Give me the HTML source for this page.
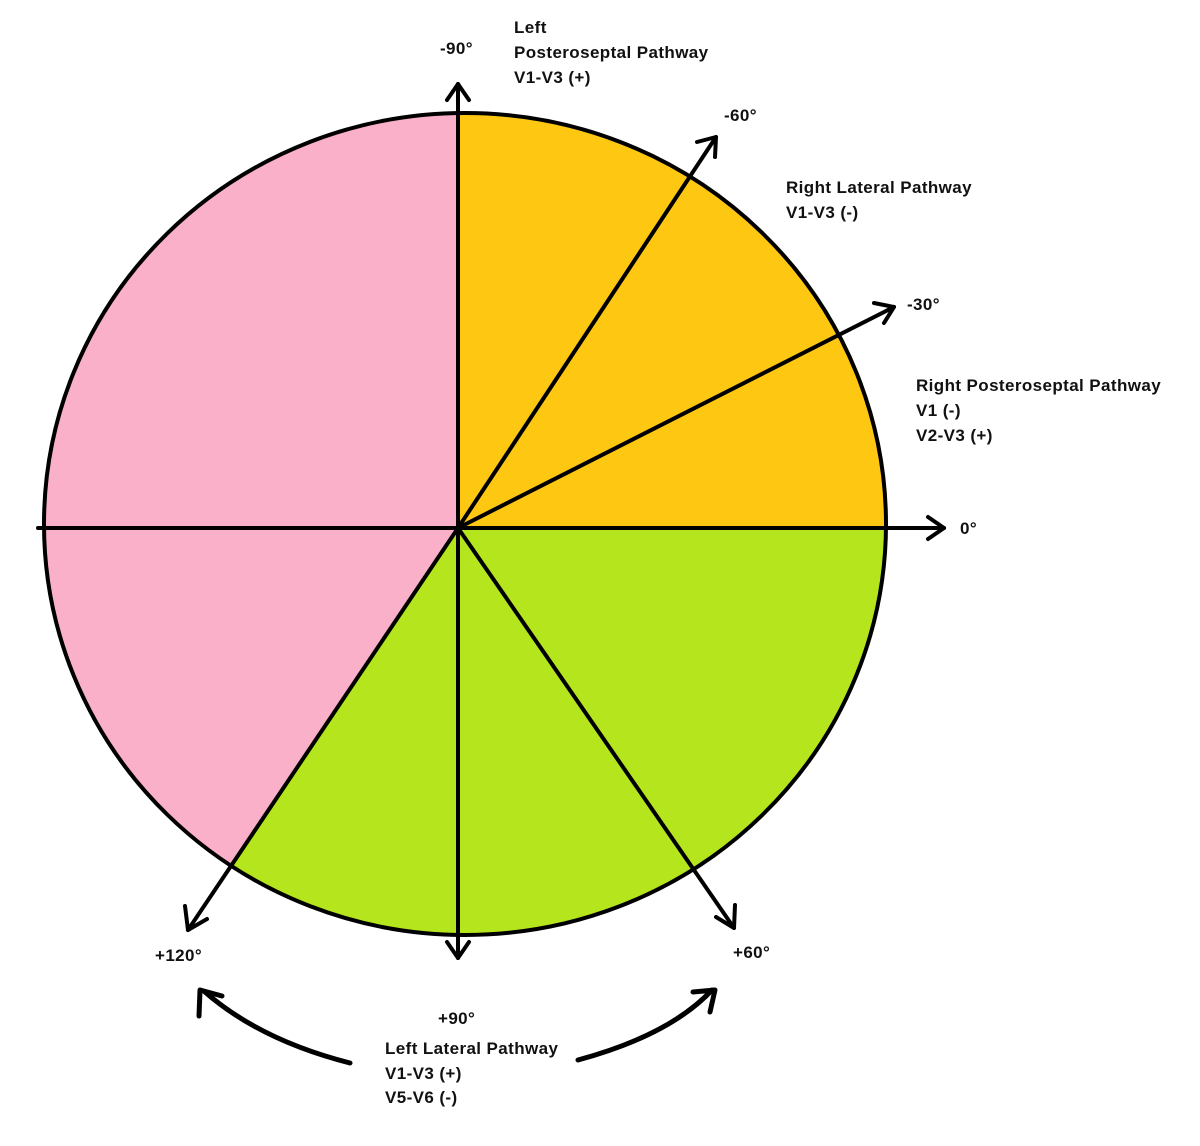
<!DOCTYPE html>
<html><head><style>
body{margin:0;background:#fff;}
svg text{font-family:"Liberation Sans",sans-serif;font-size:17px;letter-spacing:0.4px;fill:#111;font-weight:bold;}
</style></head><body>
<svg width="1200" height="1141" viewBox="0 0 1200 1141" xmlns="http://www.w3.org/2000/svg">
<defs><clipPath id="c"><ellipse cx="465" cy="524" rx="421" ry="411"/></clipPath></defs>
<g clip-path="url(#c)">
<rect x="0" y="0" width="1200" height="1141" fill="#fbb0c9"/>
<polygon points="458,528 458,0 1000,0 1000,528" fill="#fdc712"/>
<polygon points="458,528 1000,528 1000,1141 46,1141" fill="#b5e61d"/>
</g>
<ellipse cx="465" cy="524" rx="421" ry="411" fill="none" stroke="#000" stroke-width="4"/>
<g stroke="#000" stroke-width="4" fill="none" stroke-linecap="round" stroke-linejoin="round">
<line x1="458" y1="84" x2="458" y2="958"/>
<line x1="38" y1="528" x2="944" y2="528"/>
<line x1="458" y1="528" x2="716" y2="137"/>
<line x1="458" y1="528" x2="894" y2="307"/>
<line x1="458" y1="528" x2="734" y2="928"/>
<line x1="458" y1="528" x2="188" y2="930"/>
<polyline points="447,100 458,84 469,100"/>
<polyline points="447,942 458,958 469,942"/>
<polyline points="928,517 944,528 928,539"/>
<polyline points="697,142 716,137 715,157"/>
<polyline points="874,303 894,307 884,323"/>
<polyline points="735,905 734,928 716,917"/>
<polyline points="185,906 188,930 207,919"/>
<path d="M350,1063 Q260,1040 205,992" stroke-width="5"/>
<polyline points="199,1016 200,990 222,996" stroke-width="5"/>
<path d="M578,1060 Q670,1035 712,990" stroke-width="5"/>
<polyline points="693,992 715,990 710,1012" stroke-width="5"/>
</g>
<text x="514" y="33">Left</text>
<text x="514" y="58">Posteroseptal Pathway</text>
<text x="514" y="83">V1-V3 (+)</text>
<text x="440" y="54">-90°</text>
<text x="724" y="121">-60°</text>
<text x="786" y="193">Right Lateral Pathway</text>
<text x="786" y="218">V1-V3 (-)</text>
<text x="907" y="310">-30°</text>
<text x="916" y="391">Right Posteroseptal Pathway</text>
<text x="916" y="416">V1 (-)</text>
<text x="916" y="441">V2-V3 (+)</text>
<text x="960" y="534">0°</text>
<text x="155" y="961">+120°</text>
<text x="733" y="958">+60°</text>
<text x="438" y="1024">+90°</text>
<text x="385" y="1054">Left Lateral Pathway</text>
<text x="385" y="1079">V1-V3 (+)</text>
<text x="385" y="1103">V5-V6 (-)</text>
</svg>
</body></html>
